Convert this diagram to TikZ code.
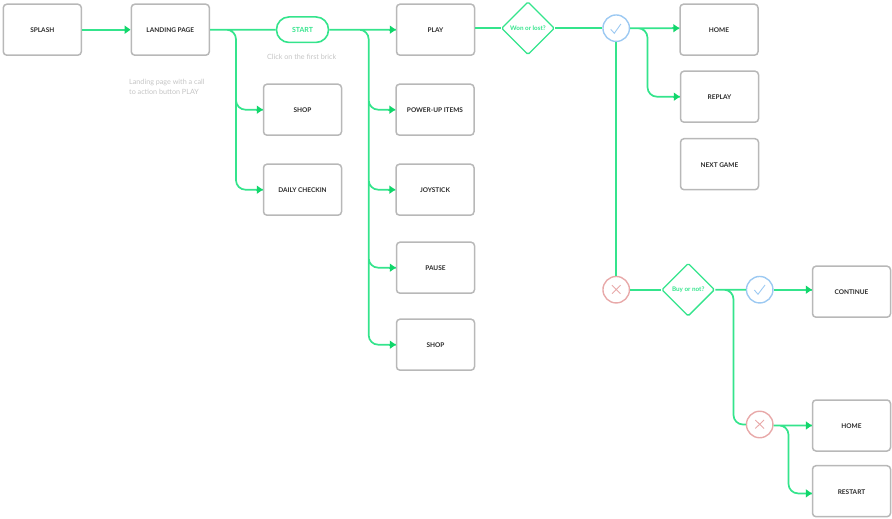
\documentclass[tikz,border=0pt]{standalone}
\usepackage{fontspec}
\setmainfont{Lato}
\usetikzlibrary{shapes.geometric,arrows.meta}
\definecolor{flowg}{HTML}{34E48C}
\definecolor{tipg}{HTML}{12D66B}
\definecolor{boxg}{HTML}{B8B8B8}
\definecolor{okb}{HTML}{9CC9F2}
\definecolor{nor}{HTML}{E8A9A9}
\definecolor{noteg}{HTML}{C4C4C4}
\definecolor{ink}{HTML}{2A2A2A}
\tikzset{
  screen/.style={draw=boxg,line width=1.5pt,rounded corners=3.5pt,minimum width=78pt,minimum height=51pt,inner sep=0pt,text=ink,text height=6pt,text depth=0pt,font=\bfseries\fontsize{6.5}{8}\selectfont},
  pill/.style={draw=flowg,line width=1.6pt,rounded corners=12.5pt,minimum width=52pt,minimum height=25.5pt,inner sep=0pt,text=flowg,font=\bfseries\fontsize{7}{8}\selectfont},
  choice/.style={diamond,aspect=1,draw=flowg,line width=1.3pt,rounded corners=1.5pt,minimum width=53pt,minimum height=53pt,inner sep=0pt,text=flowg,font=\bfseries\fontsize{6.3}{8}\selectfont},
  yes/.style={circle,draw=okb,line width=1.4pt,minimum size=26.5pt,inner sep=0pt},
  no/.style={circle,draw=nor,line width=1.4pt,minimum size=26.5pt,inner sep=0pt},
  note/.style={text=noteg,align=left,font=\fontsize{7.2}{9.6}\selectfont,inner sep=0pt},
  flow/.style={draw=flowg,line width=1.7pt,rounded corners=9.5pt},
  tipped/.style={draw=flowg,line width=1.7pt,-{Triangle[length=6pt,width=8pt,color=tipg]}},
  glyph/.style={line width=0.9pt}
}
\begin{document}
\begin{tikzpicture}[x=1pt,y=-1pt]
\useasboundingbox (0,0) rectangle (892,519);
% screens
\node[screen] (splash) at (42.3,29.7) {SPLASH};
\node[screen] (landing) at (170.3,29.7) {LANDING PAGE};
\node[screen] (shopa) at (302.5,109.7) {SHOP};
\node[screen] (daily) at (302.5,189.7) {DAILY CHECKIN};
\node[pill] (start) at (302.5,29.7) {START};
\node[screen] (play) at (435.5,29.7) {PLAY};
\node[screen] (power) at (435,109.7) {POWER-UP ITEMS};
\node[screen] (joy) at (435,189.7) {JOYSTICK};
\node[screen] (pause) at (435.5,267.7) {PAUSE};
\node[screen] (shopb) at (435.5,344.7) {SHOP};
\node[screen] (home) at (719,29.7) {HOME};
\node[screen] (replay) at (719.5,96.7) {REPLAY};
\node[screen] (next) at (719.5,164.2) {NEXT GAME};
\node[screen] (cont) at (851.5,291.7) {CONTINUE};
\node[screen] (homeb) at (851.5,425.5) {HOME};
\node[screen] (restart) at (851.5,491.2) {RESTART};
\node[choice] (won) at (528,28.2) {Won or lost?};
\node[choice] (buy) at (688.2,289.7) {Buy or not?};
\node[yes] (oka) at (616.2,28.2) {};
\node[no] (noa) at (616.2,289.7) {};
\node[yes] (okb) at (759.7,289.7) {};
\node[no] (nob) at (759.7,424.5) {};
% marks
\draw[okb,glyph] (610.7,29.3) -- (614.3,33.3) -- (620.9,24);
\draw[okb,glyph] (754.3,290) -- (758,294.3) -- (765,285);
\draw[nor,glyph] (612,285.2) -- (620.5,293.7) (620.5,285.2) -- (612,293.7);
\draw[nor,glyph] (755.3,420) -- (764,428.5) (764,420) -- (755.3,428.5);
% notes
\node[note,anchor=west] (n1) at (129,83) {Landing page with a call};
\node[note,anchor=west] (n2) at (129,92) {to action button PLAY};
\node[note,anchor=center] (n3) at (301.7,57) {Click on the first brick};
% branch points
\coordinate (b1) at (236,29.7);
\coordinate (b2) at (368.7,29.7);
\coordinate (b3) at (647.5,28.2);
\coordinate (b4) at (733.5,289.7);
\coordinate (b5) at (788.5,425.3);
\coordinate (restartin) at ([yshift=-2.2pt]restart.west);
% connectors: each bundle is one stroke, so shared stretches are not doubled
\draw[tipped] (splash.east) -- (landing.west);
\draw[flow] (landing.east) -- (start.west)
  (landing.east) -- (b1) |- (shopa.west)
  (landing.east) -- (b1) |- (daily.west);
\draw[flow] (start.east) -- (play.west)
  (start.east) -- (b2) |- (power.west)
  (start.east) -- (b2) |- (joy.west)
  (start.east) -- (b2) |- (pause.west)
  (start.east) -- (b2) |- (shopb.west);
\draw[flow] (play.east |- won.west) -- (won.west);
\draw[flow] (won.east) -- (oka.west);
\draw[flow] (oka.east) -- (home.west |- oka.east)
  (oka.east) -- (b3) |- (replay.west);
\draw[flow] (oka.south) -- (noa.north);
\draw[flow] (noa.east) -- (buy.west);
\draw[flow] (buy.east) -- (okb.west)
  (buy.east) -- (b4) |- (nob.west);
\draw[flow] (okb.east) -- (cont.west |- okb.east);
\draw[flow] (nob.east |- homeb.west) -- (homeb.west)
  (nob.east |- homeb.west) -- (b5) |- (restartin);
% arrowheads
\foreach \tgt in {shopa.west,daily.west,play.west,power.west,joy.west,pause.west,shopb.west,replay.west,homeb.west,restartin}
  \draw[tipped] ([xshift=-7pt]\tgt) -- (\tgt);
\draw[tipped] ([xshift=-7pt]home.west |- oka.east) -- (home.west |- oka.east);
\draw[tipped] ([xshift=-7pt]cont.west |- okb.east) -- (cont.west |- okb.east);
\end{tikzpicture}
\end{document}
